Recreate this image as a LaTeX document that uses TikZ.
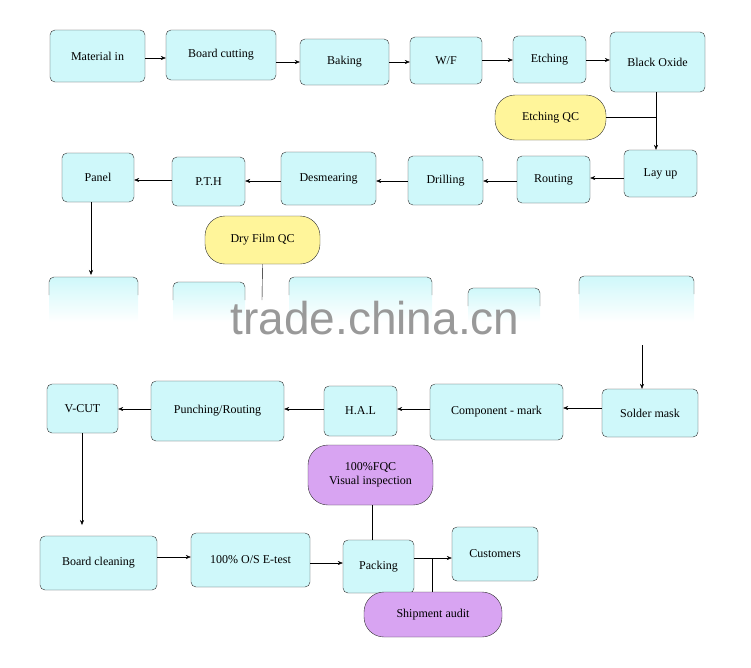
\documentclass[tikz,border=0pt]{standalone}
\usepackage{fontspec}
\setmainfont{Liberation Serif}
\usetikzlibrary{arrows.meta}
\definecolor{bx}{HTML}{CFF8FA}
\definecolor{qy}{HTML}{FFF59A}
\definecolor{qp}{HTML}{D8A4F2}
\begin{document}
\begin{tikzpicture}[x=1pt,y=-1pt,
  stepbox/.style={draw=black!80,fill=bx,rounded corners=5pt,font=\fontsize{12}{14}\selectfont},
  qc/.style={draw=black!80,rounded corners=20pt,font=\fontsize{12}{14}\selectfont,align=center},
  arr/.style={-{Stealth[length=5pt,width=4pt]},black}]
\useasboundingbox (0,0) rectangle (751,667);
\newcommand\bx[6]{\node[stepbox,minimum width=#4-#2,minimum height=#5-#3,inner sep=0pt] (#1) at ({(#2+#4)/2},{(#3+#5)/2}) {#6};}
\bx{mi}{50}{30}{145}{82}{Material in}
\bx{bc}{166}{30}{276}{80}{Board cutting}
\bx{bk}{300}{39}{389}{85}{Baking}
\bx{wf}{410}{37}{482}{84}{W/F}
\bx{et}{513}{36}{586}{83}{Etching}
\bx{bo}{610}{32}{705}{92}{Black Oxide}
\bx{lu}{624}{150}{697}{197}{Lay up}
\bx{ro}{517}{156}{590}{203}{Routing}
\bx{dr}{408}{156}{483}{205}{Drilling}
\bx{de}{281}{152}{376}{205}{Desmearing}
\bx{pt}{172}{157}{245}{206}{P.T.H}
\bx{pa}{62}{153}{134}{202}{Panel}
\bx{sm}{602}{389}{698}{437}{Solder mask}
\bx{cm}{430}{384}{563}{440}{Component - mark}
\bx{ha}{324}{386}{397}{436}{H.A.L}
\bx{pr}{151}{381}{284}{441}{Punching/Routing}
\bx{vc}{47}{384}{118}{433}{V-CUT}
\bx{cl}{40}{536}{157}{590}{Board cleaning}
\bx{oe}{191}{533}{310}{587}{100\% O/S E-test}
\bx{pk}{343}{540}{414}{593}{Packing}
\bx{cu}{452}{527}{538}{581}{Customers}
\node[qc,fill=qy,minimum width=111,minimum height=45] (eq) at (550.5,117.5) {Etching QC};
\node[qc,fill=qy,minimum width=115,minimum height=48] (dq) at (262.5,240) {Dry Film QC};
\node[qc,fill=qp,minimum width=125,minimum height=60] (fq) at (370.5,475) {100\%FQC\\Visual inspection};
\node[qc,fill=qp,minimum width=138,minimum height=45] (sa) at (433,614.5) {Shipment audit};
% faded middle row
\foreach \a/\b/\t in {49/138/277,173/245/282,289/432/277,468/540/288,579/694/276}{
  \shade[top color=bx,bottom color=white,rounded corners=5pt] (\a,322) -- (\a,\t) -- (\b,\t) [sharp corners] -- (\b,322) -- cycle;
  \draw[black!80,rounded corners=5pt] (\a,\t+18) -- (\a,\t) -- (\b,\t) -- (\b,\t+18);
}
\coordinate (dqe) at (262,300);
\coordinate (mrs) at (642,345);
\coordinate (pab) at (91,275);
\coordinate (eqc) at (656,117.5);
\coordinate (vcb) at (82,525);
\coordinate (pcm) at (432,558);
\draw[black] (dq.south) -- (dqe);
\draw[arr] (mrs) -- (sm.north -| mrs);
\draw[arr] (pa.south -| pab) -- (pab);
\draw[arr] (mi.east |- 0,58) -- (bc.west |- 0,58);
\draw[arr] (bc.east |- 0,62) -- (bk.west |- 0,62);
\draw[arr] (bk.east |- 0,62) -- (wf.west |- 0,62);
\draw[arr] (wf.east |- 0,60) -- (et.west |- 0,60);
\draw[arr] (et.east |- 0,60) -- (bo.west |- 0,60);
\draw[arr] (bo.south -| eqc) -- (lu.north -| eqc);
\draw (eq.east) -- (eqc);
\draw[arr] (lu.west |- 0,178) -- (ro.east |- 0,178);
\draw[arr] (ro.west |- 0,181) -- (dr.east |- 0,181);
\draw[arr] (dr.west |- 0,181) -- (de.east |- 0,181);
\draw[arr] (de.west |- 0,181) -- (pt.east |- 0,181);
\draw[arr] (pt.west |- 0,180) -- (pa.east |- 0,180);
\draw[arr] (sm.west |- 0,408) -- (cm.east |- 0,408);
\draw[arr] (cm.west |- 0,409) -- (ha.east |- 0,409);
\draw[arr] (ha.west |- 0,409) -- (pr.east |- 0,409);
\draw[arr] (pr.west |- 0,409) -- (vc.east |- 0,409);
\draw[arr] (vc.south -| vcb) -- (vcb);
\draw[arr] (cl.east |- 0,557) -- (oe.west |- 0,557);
\draw[arr] (oe.east |- 0,563) -- (pk.west |- 0,563);
\draw[arr] (pk.east |- 0,558) -- (cu.west |- 0,558);
\draw (fq.south -| 372,0) -- (pk.north -| 372,0);
\draw (sa.north -| pcm) -- (pcm);
\node[text=black!40,font=\fontspec{Liberation Sans}\fontsize{46}{50}\selectfont] (wm) at (375,318) {trade.china.cn};
\end{tikzpicture}
\end{document}
